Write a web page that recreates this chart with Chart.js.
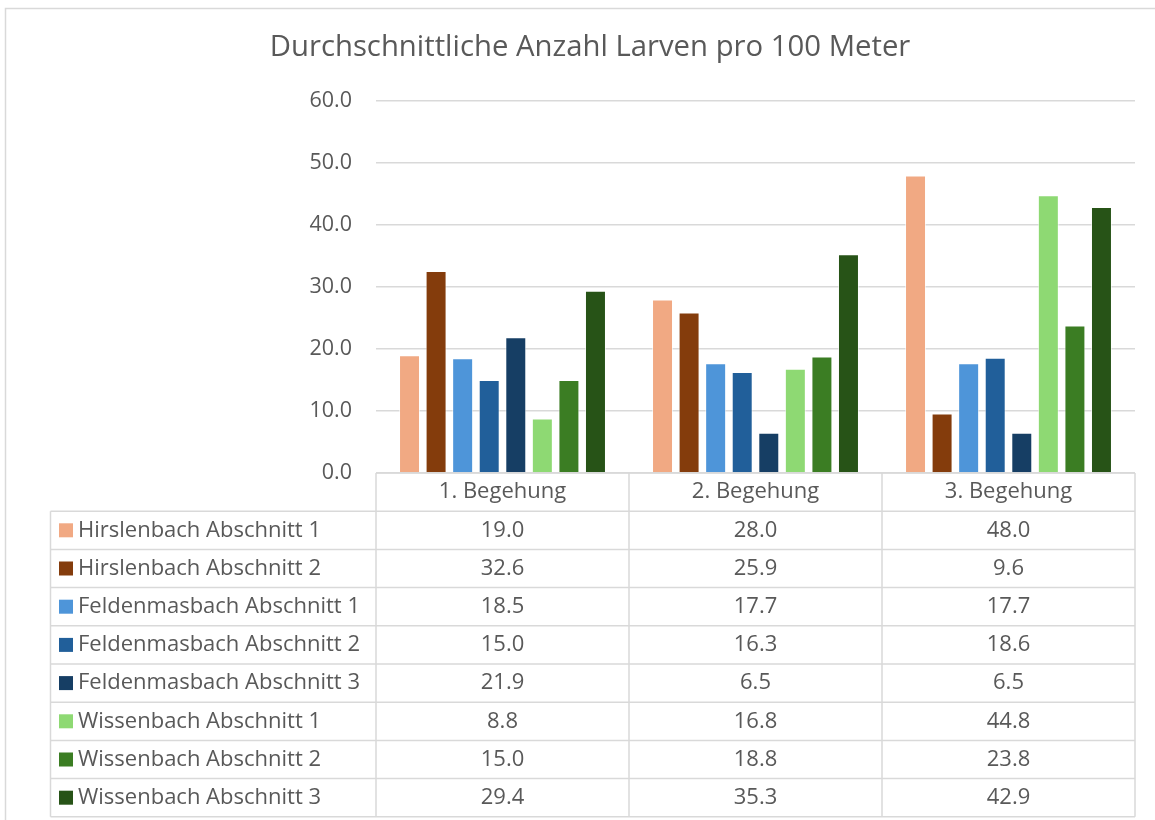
<!DOCTYPE html>
<html>
<head>
<meta charset="utf-8">
<script src="https://cdn.jsdelivr.net/npm/chart.js@4/dist/chart.umd.min.js"></script>
<style>
  html, body { margin: 0; padding: 0; background: #fff; }
  #wrap { width: 1155px; height: 820px; position: relative; }
</style>
</head>
<body>
<div id="wrap"><canvas id="c"></canvas></div>
<script>
const TITLE = "Durchschnittliche Anzahl Larven pro 100 Meter";
const begehungen = ["1. Begehung", "2. Begehung", "3. Begehung"];
const reihen = [
  "Hirslenbach Abschnitt 1",
  "Hirslenbach Abschnitt 2",
  "Feldenmasbach Abschnitt 1",
  "Feldenmasbach Abschnitt 2",
  "Feldenmasbach Abschnitt 3",
  "Wissenbach Abschnitt 1",
  "Wissenbach Abschnitt 2",
  "Wissenbach Abschnitt 3",
];
const hirslenbach1 = [19.0, 28.0, 48.0];
const hirslenbach2 = [32.6, 25.9, 9.6];
const feldenmasbach1 = [18.5, 17.7, 17.7];
const feldenmasbach2 = [15.0, 16.3, 18.6];
const feldenmasbach3 = [21.9, 6.5, 6.5];
const wissenbach1 = [8.8, 16.8, 44.8];
const wissenbach2 = [15.0, 18.8, 23.8];
const wissenbach3 = [29.4, 35.3, 42.9];
const werte = [hirslenbach1, hirslenbach2, feldenmasbach1, feldenmasbach2,
               feldenmasbach3, wissenbach1, wissenbach2, wissenbach3];

const COLORS = ["#F1A983", "#843C0C", "#4E95D9", "#215F9A",
                "#163E64", "#8ED973", "#3B7D23", "#275317"];
const TEXT = "#595959";
const GRID = "#d9d9d9";
const FONT = "'Open Sans', sans-serif";

// Datentabelle + Rahmen + Titel
const tablePlugin = {
  id: "datatable",
  afterDraw(chart) {
    const { ctx, chartArea } = chart;
    const x = chart.scales.x;
    const left = chartArea.left, right = chartArea.right;
    const top = chartArea.bottom;
    const rowH = 38.2;
    const tableLeft = 50.5;
    const colW = (right - left) / begehungen.length;
    const bottom = top + rowH * (reihen.length + 1);

    ctx.save();
    // Rahmen
    ctx.strokeStyle = GRID;
    ctx.lineWidth = 1.5;
    ctx.strokeRect(5.5, 8.5, 1300, 1000);

    // Titel
    ctx.fillStyle = TEXT;
    ctx.font = "29.3px " + FONT;
    ctx.textAlign = "center";
    ctx.textBaseline = "middle";
    ctx.fillText(TITLE, 590, 48);

    // Linien
    ctx.lineWidth = 1.5;
    ctx.strokeStyle = GRID;
    ctx.beginPath();
    ctx.moveTo(left, top); ctx.lineTo(right, top);
    for (let r = 1; r <= reihen.length + 1; r++) {
      const y = top + r * rowH;
      ctx.moveTo(tableLeft, y); ctx.lineTo(right, y);
    }
    for (let c = 0; c <= begehungen.length; c++) {
      const xx = left + c * colW;
      ctx.moveTo(xx, top); ctx.lineTo(xx, bottom);
    }
    ctx.moveTo(tableLeft, top + rowH); ctx.lineTo(tableLeft, bottom);
    ctx.stroke();

    // Kopfzeile
    ctx.font = "22px " + FONT;
    ctx.fillStyle = TEXT;
    ctx.textAlign = "center";
    begehungen.forEach((b, i) => {
      ctx.fillText(b, x.getPixelForValue(i), top + rowH / 2);
    });

    // Zeilen
    reihen.forEach((name, r) => {
      const cy = top + rowH * (r + 1) + rowH / 2;
      ctx.fillStyle = COLORS[r];
      ctx.fillRect(59, cy - 7, 14, 14);
      ctx.fillStyle = TEXT;
      ctx.textAlign = "left";
      ctx.fillText(name, 78, cy);
      ctx.textAlign = "center";
      werte[r].forEach((v, i) => {
        ctx.fillText(v.toFixed(1), x.getPixelForValue(i), cy);
      });
    });
    ctx.restore();
  },
};

new Chart(document.getElementById("c"), {
  type: "bar",
  data: {
    labels: begehungen,
    datasets: reihen.map((name, i) => ({
      label: name,
      data: werte[i],
      backgroundColor: COLORS[i],
      borderColor: "rgba(255,255,255,0.6)",
      borderWidth: 1,
      categoryPercentage: 0.84,
      barPercentage: 0.79,
    })),
  },
  options: {
    responsive: true,
    maintainAspectRatio: false,
    animation: false,
    layout: { padding: { top: 101, right: 20, bottom: 347, left: 0 } },
    plugins: {
      legend: { display: false },
      title: { display: false },
      tooltip: { enabled: false },
    },
    scales: {
      x: { display: false },
      y: {
        min: 0,
        max: 60,
        ticks: {
          stepSize: 10,
          padding: 24,
          color: TEXT,
          font: { family: FONT, size: 21.5 },
          callback: (v) => v.toFixed(1),
        },
        grid: { color: GRID, lineWidth: 1.5, drawTicks: false },
        border: { display: false },
        afterFit: (scale) => { scale.width = 376; },
      },
    },
  },
  plugins: [tablePlugin],
});
</script>
</body>
</html>
